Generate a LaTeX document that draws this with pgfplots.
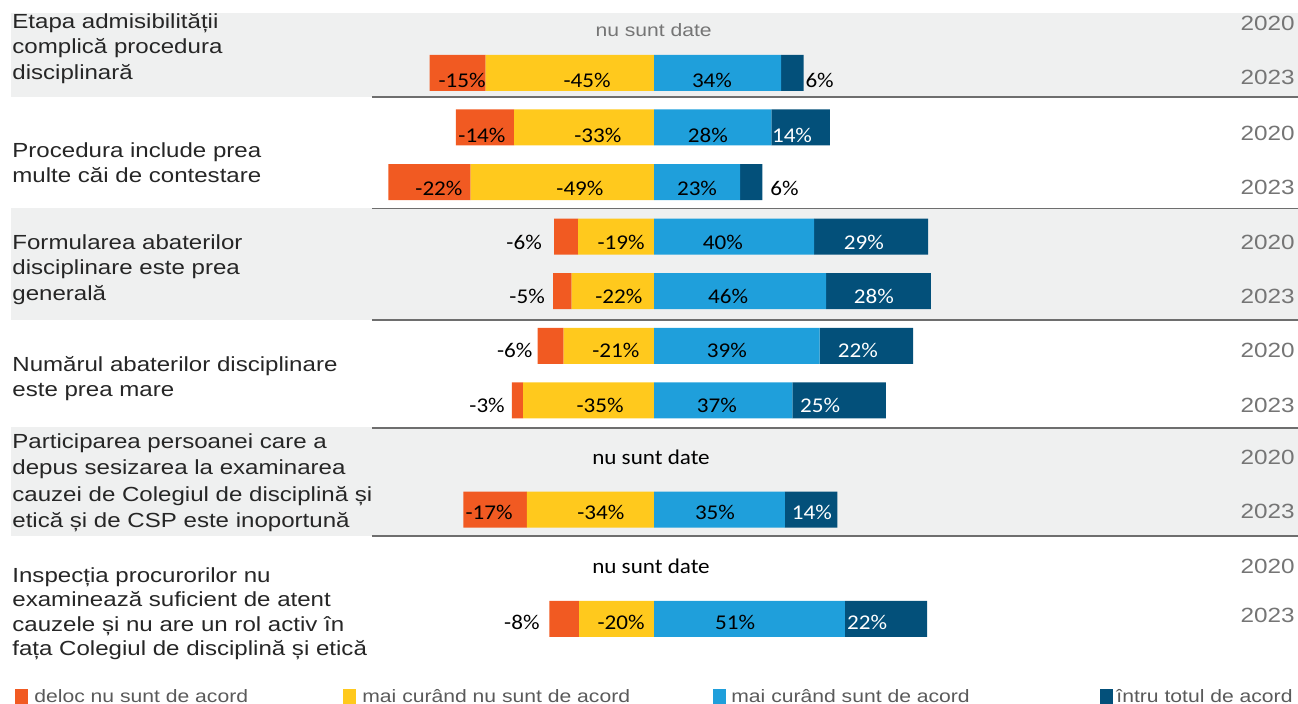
\documentclass[border=0pt]{standalone}
\usepackage{fontspec}
\usepackage{pgfplots}
\usepackage{pgfplotstable}
\pgfplotsset{compat=1.18}
\setmainfont[FakeStretch=1.18]{Liberation Sans}
\newfontfamily\barfont[FakeStretch=1.1]{Carlito}

\definecolor{cOr}{HTML}{F15A22}
\definecolor{cYe}{HTML}{FFC91D}
\definecolor{cLb}{HTML}{1F9FDB}
\definecolor{cDb}{HTML}{03507A}
\definecolor{band}{HTML}{EFF0F0}
\definecolor{sep}{HTML}{6E6E6E}
\definecolor{yr}{HTML}{757575}
\definecolor{lbl}{HTML}{262626}
\definecolor{leg}{HTML}{5A5A5A}

% bar lengths (2023 rows = labelled shares; 2020 rows drawn normalised as in the original)
\pgfplotstableread{
row o y b d
2 -15 -45 34 6
3 -15.6 -37.4 31.4 15.6
4 -22 -49 23 6
5 -6.4 -20.3 42.8 30.5
6 -5 -22 46 28
7 -6.9 -24.2 44.3 25.0
8 -3 -35 37 25
10 -17 -34 35 14
12 -8 -20 51 22
}\datatab

\pgfplotsset{base/.style={
  at={(0,0)}, anchor=south west, scale only axis,
  width=649pt, height=351.5pt,
  xmin=-174.866, xmax=172.193, ymin=0.66667, ymax=13.5421, y dir=reverse,
  axis lines=none, ticks=none, clip=false,
  xbar stacked, bar width=18pt,
}}
\tikzset{
  lab/.style={anchor=base, inner sep=0pt, font=\barfont\fontsize{10.5}{12}\selectfont, text=black},
  labw/.style={lab, text=white},
  labE/.style={lab, anchor=base east},
  labW/.style={lab, anchor=base west},
  txt/.style={anchor=base west, inner sep=0pt, font=\fontsize{10.2}{12}\selectfont, text=lbl},
  yrs/.style={anchor=base east, inner sep=0pt, font=\fontsize{10.3}{12}\selectfont, text=yr},
  legt/.style={anchor=base west, inner sep=0pt, font=\fontsize{8.95}{11}\selectfont, text=leg},
}

\begin{document}
\begin{tikzpicture}
% ---- background bands, separators, text in pixel coordinates ----
\begin{scope}[x=0.5pt, y=-0.5pt, shift={(0,351.5pt)}]
  \fill[band] (11,13) rectangle (1298,97);
  \fill[band] (11,208) rectangle (1298,320);
  \fill[band] (11,427) rectangle (1298,536);
  \foreach \yy in {97,208.5,320,428,536}
    \draw[sep, line width=0.75pt] (372,\yy) -- (1298,\yy);

  \node[txt] at (12,28.3) {Etapa admisibilității};
  \node[txt] at (12,54) {complică procedura};
  \node[txt] at (12,79.7) {disciplinară};
  \node[txt] at (12,157.5) {Procedura include prea};
  \node[txt] at (12,182.5) {multe căi de contestare};
  \node[txt] at (12,249.3) {Formularea abaterilor};
  \node[txt] at (12,275) {disciplinare este prea};
  \node[txt] at (12,300.7) {generală};
  \node[txt] at (12,371.7) {Numărul abaterilor disciplinare};
  \node[txt] at (12,396.7) {este prea mare};
  \node[txt] at (12,448) {Participarea persoanei care a};
  \node[txt] at (12,474.5) {depus sesizarea la examinarea};
  \node[txt] at (12,501) {cauzei de Colegiul de disciplină și};
  \node[txt] at (12,527.5) {etică și de CSP este inoportună};
  \node[txt] at (12,582) {Inspecția procurorilor nu};
  \node[txt] at (12,606.5) {examinează suficient de atent};
  \node[txt] at (12,631) {cauzele și nu are un rol activ în};
  \node[txt] at (12,655.5) {fața Colegiul de disciplină și etică};

  \foreach \yy/\t in {31/2020,84.5/2023,140.5/2020,194.5/2023,249.5/2020,303.5/2023,357.5/2020,412.5/2023,464.5/2020,518.5/2023,573.5/2020,622/2023}
    \node[yrs] at (1295,\yy) {\t};

  \fill[cOr] (15,689) rectangle (28,705);
  \node[legt] at (34,702) {deloc nu sunt de acord};
  \fill[cYe] (343,689) rectangle (356,705);
  \node[legt] at (362,702) {mai curând nu sunt de acord};
  \fill[cLb] (713,689) rectangle (726,705);
  \node[legt] at (731,702) {mai curând sunt de acord};
  \fill[cDb] (1100,689) rectangle (1113,705);
  \node[legt] at (1116,702) {întru totul de acord};
\end{scope}

% ---- negative side ----
\begin{axis}[base]
  \addplot[fill=cYe, draw=none] table[x=y, y=row]{\datatab};
  \addplot[fill=cOr, draw=none] table[x=o, y=row]{\datatab};
\end{axis}

% ---- positive side ----
\begin{axis}[base]
  \addplot[fill=cLb, draw=none] table[x=b, y=row]{\datatab};
  \addplot[fill=cDb, draw=none] table[x=d, y=row]{\datatab};
\end{axis}

% ---- value labels (on top) ----
\begin{axis}[base]
  \node[lab, text=yr, font=\fontsize{8.95}{11}\selectfont] at (axis cs:-0.1,1.344) {nu sunt date};
  \node[lab] at (axis cs:-0.8,9.165) {nu sunt date};
  \node[lab] at (axis cs:-0.8,11.161) {nu sunt date};

  % row 2
  \node[lab] at (axis cs:-51.3,2.26) {-15\%};
  \node[lab] at (axis cs:-17.9,2.26) {-45\%};
  \node[lab] at (axis cs:15.5,2.26) {34\%};
  \node[labW] at (axis cs:40.4,2.26) {6\%};
  % row 3
  \node[lab] at (axis cs:-46.0,3.27) {-14\%};
  \node[lab] at (axis cs:-15.0,3.27) {-33\%};
  \node[lab] at (axis cs:14.4,3.27) {28\%};
  \node[labw] at (axis cs:36.9,3.27) {14\%};
  % row 4
  \node[lab] at (axis cs:-57.5,4.25) {-22\%};
  \node[lab] at (axis cs:-19.8,4.25) {-49\%};
  \node[lab] at (axis cs:11.5,4.25) {23\%};
  \node[labW] at (axis cs:31.0,4.25) {6\%};
  % row 5
  \node[labE] at (axis cs:-29.9,5.24) {-6\%};
  \node[lab] at (axis cs:-8.8,5.24) {-19\%};
  \node[lab] at (axis cs:18.4,5.24) {40\%};
  \node[labw] at (axis cs:56.1,5.24) {29\%};
  % row 6
  \node[labE] at (axis cs:-29.1,6.23) {-5\%};
  \node[lab] at (axis cs:-9.4,6.23) {-22\%};
  \node[lab] at (axis cs:19.8,6.23) {46\%};
  \node[labw] at (axis cs:58.8,6.23) {28\%};
  % row 7
  \node[labE] at (axis cs:-32.4,7.22) {-6\%};
  \node[lab] at (axis cs:-10.2,7.22) {-21\%};
  \node[lab] at (axis cs:19.5,7.22) {39\%};
  \node[labw] at (axis cs:54.5,7.22) {22\%};
  % row 8
  \node[labE] at (axis cs:-39.8,8.23) {-3\%};
  \node[lab] at (axis cs:-14.4,8.23) {-35\%};
  \node[lab] at (axis cs:16.8,8.23) {37\%};
  \node[labw] at (axis cs:44.4,8.23) {25\%};
  % row 10
  \node[lab] at (axis cs:-44.1,10.19) {-17\%};
  \node[lab] at (axis cs:-14.2,10.19) {-34\%};
  \node[lab] at (axis cs:16.3,10.19) {35\%};
  \node[labw] at (axis cs:42.2,10.19) {14\%};
  % row 12
  \node[labE] at (axis cs:-30.5,12.19) {-8\%};
  \node[lab] at (axis cs:-8.8,12.19) {-20\%};
  \node[lab] at (axis cs:21.7,12.19) {51\%};
  \node[labw] at (axis cs:57.0,12.19) {22\%};
\end{axis}

\pgfresetboundingbox
\useasboundingbox (0,0) rectangle (649pt,351.5pt);
\end{tikzpicture}
\end{document}
